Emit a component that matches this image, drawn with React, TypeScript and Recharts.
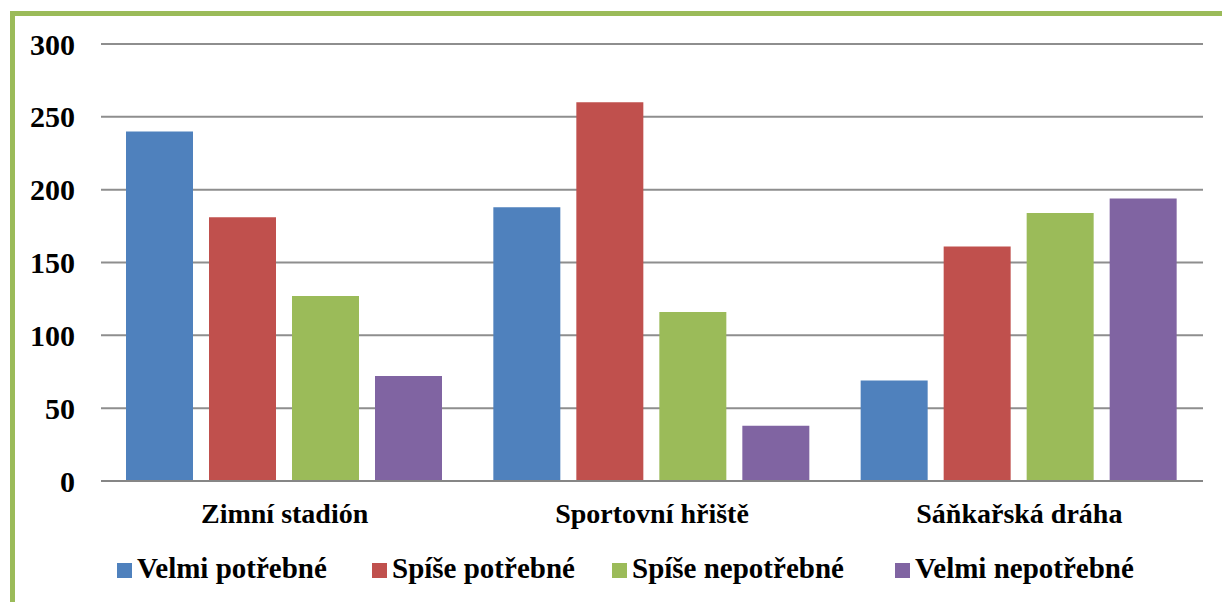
import { BarChart, Bar, XAxis, YAxis, CartesianGrid } from 'recharts';

const categories = ['Zimní stadión', 'Sportovní hřiště', 'Sáňkařská dráha'];
const velmiPotrebne = [240, 188, 69];
const spisePotrebne = [181, 260, 161];
const spiseNepotrebne = [127, 116, 184];
const velmiNepotrebne = [72, 38, 194];
const yTicks = [0, 50, 100, 150, 200, 250, 300];

const series = [
  { key: 'Velmi potřebné', values: velmiPotrebne, color: '#4F81BD' },
  { key: 'Spíše potřebné', values: spisePotrebne, color: '#C0504D' },
  { key: 'Spíše nepotřebné', values: spiseNepotrebne, color: '#9BBB59' },
  { key: 'Velmi nepotřebné', values: velmiNepotrebne, color: '#8064A2' },
];

// legend slot widths, so the entries sit where the original has them
const legendSlots = [255, 240, 283, 260];

const data = categories.map((name, i) => {
  const row: Record<string, string | number> = { name };
  series.forEach((s) => {
    row[s.key] = s.values[i];
  });
  return row;
});

const font = "'Liberation Serif', 'Times New Roman', serif";

export default function App() {
  return (
    <div style={{ position: 'absolute', left: 0, top: 0, width: 1222, height: 602, background: '#fff', overflow: 'hidden' }}>
      {/* green frame, top + left only */}
      <div
        style={{
          position: 'absolute',
          left: 10,
          top: 11,
          width: 1222,
          height: 602,
          borderTop: '5px solid #9BBB59',
          borderLeft: '5px solid #9BBB59',
        }}
      />
      <div style={{ position: 'absolute', left: 0, top: 0 }}>
        <BarChart
          width={1222}
          height={602}
          data={data}
          margin={{ top: 44, right: 19, left: 0, bottom: 0 }}
          barCategoryGap={25}
          barGap={16}
        >
          <CartesianGrid vertical={false} stroke="#8E8E8E" strokeWidth={2} />
          <XAxis
            dataKey="name"
            height={121}
            axisLine={{ stroke: '#868686', strokeWidth: 2 }}
            tickLine={false}
            tickSize={0}
            tickMargin={22}
            tick={{ fill: '#000', fontSize: 28, fontWeight: 700, fontFamily: font }}
          />
          <YAxis
            width={101}
            domain={[0, 300]}
            ticks={yTicks}
            axisLine={false}
            tickLine={false}
            tickSize={0}
            tickMargin={26}
            tick={{ fill: '#000', fontSize: 30, fontWeight: 700, fontFamily: font }}
          />
          {series.map((s) => (
            <Bar key={s.key} dataKey={s.key} fill={s.color} isAnimationActive={false} />
          ))}
        </BarChart>
      </div>
      <div
        style={{
          position: 'absolute',
          left: 117,
          top: 552,
          display: 'flex',
          alignItems: 'center',
          fontFamily: font,
          fontWeight: 700,
          fontSize: 29,
          color: '#000',
          whiteSpace: 'nowrap',
        }}
      >
        {series.map((s, i) => (
          <div key={s.key} style={{ display: 'flex', alignItems: 'center', width: legendSlots[i] }}>
            <span style={{ width: 15, height: 15, background: s.color, marginRight: 5, marginTop: 4, flexShrink: 0 }} />
            <span>{s.key}</span>
          </div>
        ))}
      </div>
    </div>
  );
}
